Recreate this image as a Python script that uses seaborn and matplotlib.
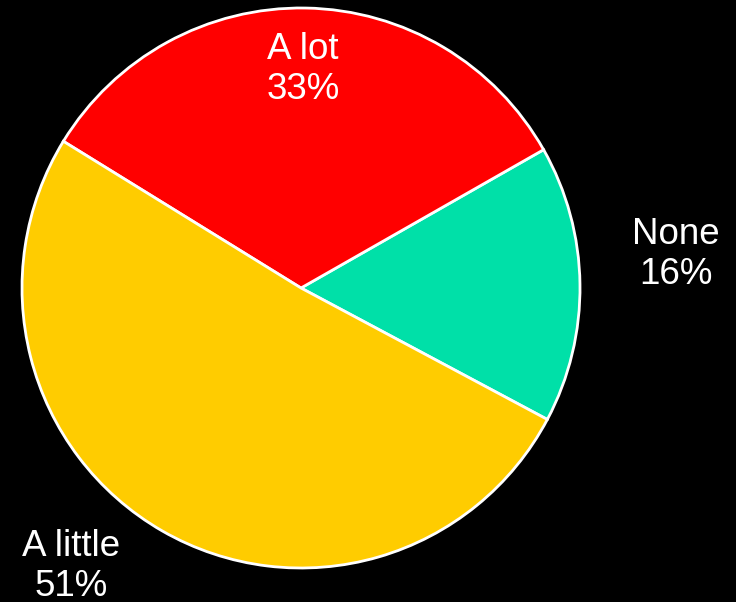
import matplotlib
matplotlib.use("Agg")
import matplotlib.pyplot as plt
import seaborn as sns

categories = ["None", "A lot", "A little"]
values = [16, 33, 51]
colors = ["#00E0A8", "#FF0000", "#FFCC00"]
label_pos = [(1.344, 0.121), (0.007, 0.78), (-0.823, -0.995)]

sns.set_theme(style="white")
plt.rcParams["font.family"] = ["Liberation Sans", "DejaVu Sans"]

fig = plt.figure(figsize=(7.36, 6.02), dpi=100, facecolor="black")
ax = fig.add_axes([22 / 736, 34 / 602, 558 / 736, 560 / 602])
ax.set_facecolor("black")

wedges, _ = ax.pie(
    values,
    colors=colors,
    startangle=-28,
    counterclock=True,
    wedgeprops=dict(edgecolor="white", linewidth=2),
)
ax.set_aspect("auto")
ax.set_xlim(-1.0, 1.0)
ax.set_ylim(-1.0, 1.0)

for cat, val, (x, y) in zip(categories, values, label_pos):
    ax.text(x, y, f"{cat}\n{val}%", color="white", fontsize=26.5,
            ha="center", va="center", multialignment="center",
            linespacing=1.18)

fig.savefig("out.png", dpi=100, facecolor="black")
